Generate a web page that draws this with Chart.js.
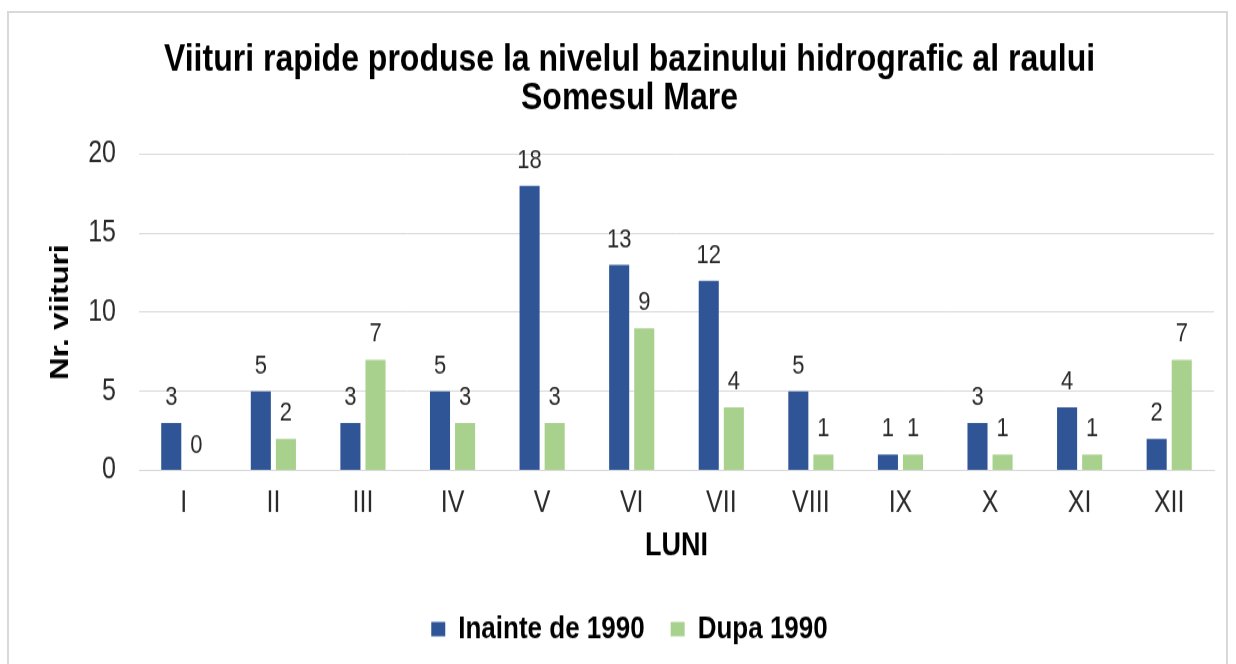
<!DOCTYPE html>
<html>
<head>
<meta charset="utf-8">
<script src="https://cdn.jsdelivr.net/npm/chart.js@4"></script>
<style>
  html, body { margin: 0; padding: 0; background: #fff; overflow: hidden; }
  #frame {
    position: absolute; left: 7px; top: 11px;
    width: 1221px; height: 700px;
    border: 2px solid #d9d9d9; box-sizing: border-box;
  }
  /* the original picture is stretched vertically, so stretch the canvas too */
  #wrap {
    position: absolute; left: 0; top: 0; width: 1217px; height: 542.5px;
    transform: scaleY(1.2); transform-origin: 0 0;
  }
</style>
</head>
<body>
<div id="frame"><div id="wrap"><canvas id="barChart"></canvas></div></div>
<script>
const luni = ['I', 'II', 'III', 'IV', 'V', 'VI', 'VII', 'VIII', 'IX', 'X', 'XI', 'XII'];
const inainte1990 = [3, 5, 3, 5, 18, 13, 12, 5, 1, 3, 4, 2];
const dupa1990 = [0, 2, 7, 3, 3, 9, 4, 1, 1, 1, 1, 7];
const yTicks = [0, 5, 10, 15, 20];

const FONT = "'Liberation Sans', Arial, sans-serif";

// etichete cu valori deasupra barelor
const valueLabels = {
  id: 'valueLabels',
  afterDatasetsDraw(chart) {
    const ctx = chart.ctx;
    ctx.save();
    ctx.font = '22px ' + FONT;
    ctx.fillStyle = '#2a2a2a';
    ctx.textAlign = 'center';
    ctx.textBaseline = 'alphabetic';
    chart.data.datasets.forEach((ds, i) => {
      chart.getDatasetMeta(i).data.forEach((bar, j) => {
        ctx.fillText(ds.data[j], bar.x, bar.y - 15);
      });
    });
    ctx.restore();
  }
};

const ctx = document.getElementById('barChart').getContext('2d');
new Chart(ctx, {
  type: 'bar',
  data: {
    labels: luni,
    datasets: [
      {
        label: 'Inainte de 1990',
        data: inainte1990,
        backgroundColor: '#2F5597',
        categoryPercentage: 0.56,
        barPercentage: 0.8
      },
      {
        label: 'Dupa 1990',
        data: dupa1990,
        backgroundColor: '#A9D18E',
        categoryPercentage: 0.56,
        barPercentage: 0.8
      }
    ]
  },
  options: {
    responsive: true,
    maintainAspectRatio: false,
    animation: false,
    layout: { padding: { left: 36, right: 12, top: 0, bottom: 7 } },
    plugins: {
      title: {
        display: true,
        text: ['Viituri rapide produse la nivelul bazinului hidrografic al raului', 'Somesul Mare'],
        color: '#000',
        font: { family: FONT, size: 32, weight: 'bold', lineHeight: 0.99 },
        padding: { top: 23.4, bottom: 30.7 }
      },
      legend: {
        position: 'bottom',
        labels: {
          color: '#000',
          font: { family: FONT, size: 26, weight: 'bold' },
          boxWidth: 14,
          boxHeight: 12,
          padding: 26
        }
      },
      tooltip: { enabled: false }
    },
    scales: {
      x: {
        afterFit: axis => { axis.height = 93; },
        grid: { display: false, drawTicks: false },
        border: { color: '#d9d9d9', width: 1 },
        ticks: { color: '#2a2a2a', font: { family: FONT, size: 25 }, padding: 13 },
        title: {
          display: true,
          text: 'LUNI',
          color: '#000',
          font: { family: FONT, size: 27, weight: 'bold' },
          padding: { top: 0, bottom: 13.5 }
        }
      },
      y: {
        min: 0,
        max: 20,
        afterBuildTicks: axis => { axis.ticks = yTicks.map(v => ({ value: v })); },
        afterFit: axis => { axis.width = 94; },
        grid: { color: '#d9d9d9', lineWidth: 1, drawTicks: false },
        border: { display: false },
        ticks: { color: '#2a2a2a', font: { family: FONT, size: 25 }, padding: 23 },
        title: {
          display: true,
          text: 'Nr. viituri',
          color: '#000',
          font: { family: FONT, size: 26, weight: 'bold' },
          padding: { top: 0, bottom: 0 }
        }
      }
    }
  },
  plugins: [valueLabels]
});
</script>
</body>
</html>
